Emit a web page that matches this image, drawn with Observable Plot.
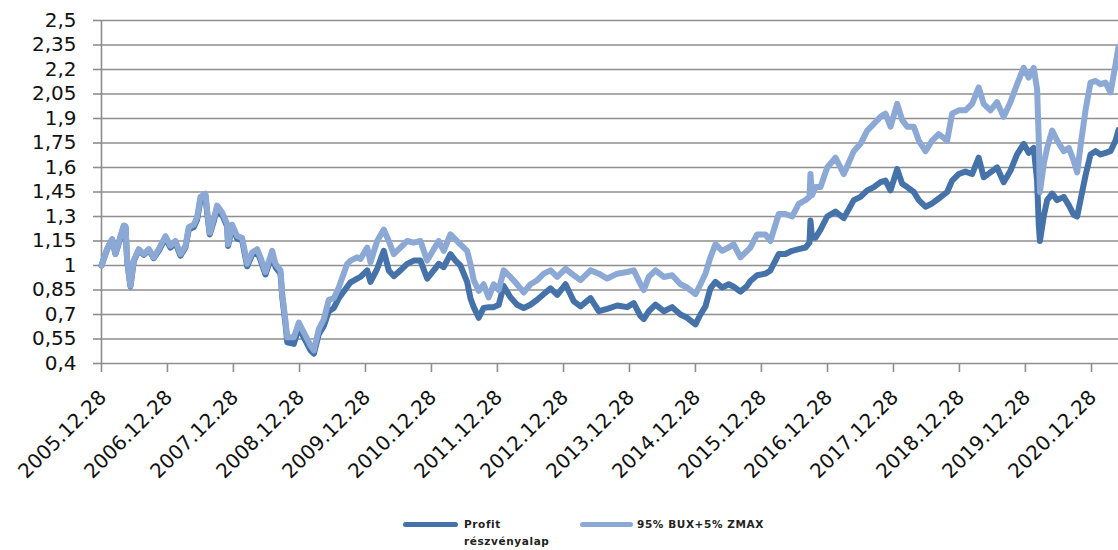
<!DOCTYPE html>
<html>
<head>
<meta charset="utf-8">
<script src="https://cdn.jsdelivr.net/npm/d3@7"></script>
<script src="https://cdn.jsdelivr.net/npm/@observablehq/plot@0.6"></script>
<style>
  html, body { margin: 0; padding: 0; background: #fff; }
  #wrap { position: relative; width: 1118px; height: 550px; overflow: hidden; font-family: "DejaVu Sans", sans-serif; }
  #legend { position: absolute; left: 0; top: 500px; width: 1118px; height: 50px; }
  .sw { position: absolute; height: 5px; border-radius: 3px; }
  .lt { position: absolute; font-family: "DejaVu Sans", sans-serif; font-weight: bold; font-size: 10.5px; color: #222; line-height: 17px; letter-spacing: 0.6px; white-space: nowrap; }
</style>
</head>
<body>
<div id="wrap">
  <div id="chart"></div>
  <div id="legend"></div>
</div>
<script>
// ---- data (decimal years) ----
const seriesNames = ["Profit részvényalap", "95% BUX+5% ZMAX"];
const seriesColors = ["#4472a9", "#8ca9d5"];

const dates = [
 2005.989, 2006.075, 2006.151, 2006.201, 2006.277, 2006.327, 2006.353, 2006.378, 2006.428, 2006.478,
 2006.554, 2006.630, 2006.706, 2006.781, 2006.857, 2006.959, 2007.034, 2007.110, 2007.186, 2007.262,
 2007.312, 2007.387, 2007.439, 2007.489, 2007.565, 2007.591, 2007.630, 2007.691, 2007.742, 2007.818,
 2007.894, 2007.909, 2007.969, 2008.045, 2008.121, 2008.197, 2008.272, 2008.348, 2008.398, 2008.474,
 2008.575, 2008.625, 2008.701, 2008.727, 2008.777, 2008.803, 2008.903, 2008.978, 2009.054, 2009.156,
 2009.206, 2009.281, 2009.357, 2009.433, 2009.509, 2009.584, 2009.712, 2009.762, 2009.863, 2009.913,
 2010.015, 2010.065, 2010.166, 2010.266, 2010.342, 2010.418, 2010.519, 2010.621, 2010.721, 2010.822,
 2010.924, 2011.024, 2011.100, 2011.175, 2011.277, 2011.353, 2011.428, 2011.530, 2011.580, 2011.630,
 2011.706, 2011.781, 2011.857, 2011.933, 2012.009, 2012.084, 2012.186, 2012.287, 2012.387, 2012.489,
 2012.591, 2012.691, 2012.792, 2012.894, 2013.019, 2013.145, 2013.247, 2013.398, 2013.524, 2013.651,
 2013.803, 2013.954, 2014.054, 2014.156, 2014.206, 2014.281, 2014.383, 2014.509, 2014.636, 2014.762,
 2014.863, 2014.989, 2015.065, 2015.141, 2015.216, 2015.292, 2015.394, 2015.494, 2015.569, 2015.671,
 2015.772, 2015.822, 2015.924, 2016.050, 2016.125, 2016.251, 2016.353, 2016.454, 2016.554, 2016.656,
 2016.716, 2016.731, 2016.754, 2016.807, 2016.883, 2016.984, 2017.110, 2017.236, 2017.387, 2017.489,
 2017.591, 2017.691, 2017.792, 2017.868, 2017.944, 2018.045, 2018.121, 2018.197, 2018.297, 2018.372,
 2018.474, 2018.575, 2018.675, 2018.803, 2018.878, 2018.978, 2019.080, 2019.181, 2019.281, 2019.357,
 2019.459, 2019.560, 2019.660, 2019.762, 2019.863, 2019.963, 2020.039, 2020.115, 2020.166, 2020.191,
 2020.209, 2020.266, 2020.318, 2020.394, 2020.469, 2020.569, 2020.645, 2020.721, 2020.772, 2020.822,
 2020.898, 2020.974, 2021.050, 2021.125, 2021.201, 2021.277, 2021.353, 2021.398
];

const profit = [
 1.00, 1.10, 1.16, 1.07, 1.17, 1.24, 1.235, 1.025, 0.872, 1.025,
 1.095, 1.065, 1.095, 1.045, 1.09, 1.17, 1.11, 1.14, 1.06, 1.11,
 1.22, 1.235, 1.28, 1.40, 1.425, 1.32, 1.19, 1.27, 1.35, 1.31,
 1.24, 1.12, 1.235, 1.165, 1.155, 0.995, 1.065, 1.085, 1.035, 0.945,
 1.07, 0.99, 0.95, 0.81, 0.64, 0.53, 0.52, 0.62, 0.56, 0.48,
 0.46, 0.58, 0.63, 0.72, 0.74, 0.80, 0.87, 0.897, 0.92, 0.93,
 0.97, 0.90, 0.98, 1.09, 0.97, 0.935, 0.97, 1.01, 1.03, 1.03,
 0.92, 0.97, 1.01, 0.99, 1.07, 1.03, 1.00, 0.90, 0.80, 0.745,
 0.68, 0.74, 0.745, 0.745, 0.76, 0.875, 0.805, 0.76, 0.74, 0.76,
 0.79, 0.825, 0.86, 0.82, 0.885, 0.78, 0.75, 0.80, 0.72, 0.735,
 0.755, 0.745, 0.77, 0.69, 0.672, 0.72, 0.76, 0.72, 0.745, 0.70,
 0.68, 0.64, 0.70, 0.75, 0.86, 0.90, 0.865, 0.885, 0.87, 0.84,
 0.875, 0.905, 0.94, 0.95, 0.97, 1.07, 1.07, 1.09, 1.10, 1.11,
 1.14, 1.275, 1.17, 1.17, 1.22, 1.30, 1.33, 1.29, 1.40, 1.42,
 1.46, 1.48, 1.51, 1.52, 1.46, 1.59, 1.50, 1.48, 1.45, 1.40,
 1.36, 1.38, 1.41, 1.45, 1.52, 1.56, 1.575, 1.56, 1.66, 1.54,
 1.57, 1.60, 1.51, 1.58, 1.68, 1.745, 1.69, 1.72, 1.52, 1.25,
 1.15, 1.30, 1.40, 1.44, 1.40, 1.42, 1.37, 1.31, 1.30, 1.40,
 1.55, 1.68, 1.70, 1.68, 1.69, 1.70, 1.765, 1.83
];

const benchmark = [
 1.00, 1.10, 1.16, 1.07, 1.18, 1.245, 1.24, 1.03, 0.876, 1.03,
 1.10, 1.07, 1.10, 1.05, 1.10, 1.18, 1.12, 1.15, 1.07, 1.12,
 1.235, 1.25, 1.295, 1.42, 1.44, 1.335, 1.20, 1.285, 1.367, 1.325,
 1.255, 1.13, 1.25, 1.18, 1.17, 1.01, 1.08, 1.10, 1.05, 0.96,
 1.09, 1.01, 0.97, 0.825, 0.66, 0.56, 0.56, 0.65, 0.59, 0.51,
 0.48, 0.61, 0.67, 0.79, 0.80, 0.865, 1.01, 1.03, 1.05, 1.04,
 1.11, 1.02, 1.15, 1.22, 1.15, 1.07, 1.11, 1.15, 1.14, 1.15,
 1.03, 1.10, 1.15, 1.09, 1.19, 1.16, 1.13, 1.09, 1.01, 0.91,
 0.845, 0.885, 0.805, 0.885, 0.85, 0.97, 0.93, 0.885, 0.835, 0.885,
 0.91, 0.95, 0.97, 0.93, 0.98, 0.94, 0.91, 0.97, 0.95, 0.92,
 0.95, 0.96, 0.97, 0.885, 0.85, 0.93, 0.97, 0.93, 0.94, 0.885,
 0.865, 0.825, 0.885, 0.95, 1.05, 1.13, 1.09, 1.11, 1.13, 1.05,
 1.09, 1.11, 1.19, 1.19, 1.15, 1.315, 1.315, 1.30, 1.377, 1.40,
 1.42, 1.56, 1.43, 1.48, 1.48, 1.60, 1.66, 1.56, 1.70, 1.745,
 1.826, 1.867, 1.91, 1.93, 1.85, 1.99, 1.89, 1.85, 1.85, 1.765,
 1.70, 1.765, 1.805, 1.765, 1.93, 1.95, 1.95, 1.99, 2.09, 1.99,
 1.95, 2.00, 1.91, 2.00, 2.11, 2.21, 2.15, 2.21, 2.08, 1.77,
 1.45, 1.62, 1.72, 1.826, 1.765, 1.70, 1.72, 1.64, 1.57, 1.73,
 1.95, 2.12, 2.13, 2.11, 2.12, 2.06, 2.23, 2.34
];

const xTickLabels = ["2005.12.28","2006.12.28","2007.12.28","2008.12.28","2009.12.28","2010.12.28",
 "2011.12.28","2012.12.28","2013.12.28","2014.12.28","2015.12.28","2016.12.28","2017.12.28",
 "2018.12.28","2019.12.28","2020.12.28"];
const yTicks = [0.4, 0.55, 0.7, 0.85, 1, 1.15, 1.3, 1.45, 1.6, 1.75, 1.9, 2.05, 2.2, 2.35, 2.5];

// ---- helpers ----
function decToDate(dy) {
  const y = Math.floor(dy);
  const s = Date.UTC(y, 0, 1), e = Date.UTC(y + 1, 0, 1);
  return new Date(s + (dy - y) * (e - s));
}
const parseLabel = d3.utcParse("%Y.%m.%d");
const xTicks = xTickLabels.map(s => ({date: parseLabel(s), label: s}));

const rows = [];
dates.forEach((d, i) => rows.push({date: decToDate(d), value: profit[i], series: seriesNames[0]}));
dates.forEach((d, i) => rows.push({date: decToDate(d), value: benchmark[i], series: seriesNames[1]}));

const fmt = v => String(v).replace(".", ",");
const gridColor = "#8e8e8e";

const chart = Plot.plot({
  width: 1118,
  height: 500,
  marginLeft: 101,
  marginRight: 0,
  marginTop: 20,
  marginBottom: 137,
  style: {fontFamily: "DejaVu Sans, sans-serif", fontSize: "20px", background: "#fff", overflow: "visible"},
  x: {type: "utc", domain: [xTicks[0].date, decToDate(dates[dates.length - 1])]},
  y: {domain: [0.4, 2.5]},
  color: {domain: seriesNames, range: seriesColors},
  marks: [
    Plot.ruleY(yTicks, {stroke: gridColor, strokeWidth: 1.6}),
    Plot.ruleX([xTicks[0].date], {y1: 0.4, y2: 2.5, stroke: gridColor, strokeWidth: 1.6}),
    Plot.axisY(yTicks, {tickSize: 8, tickPadding: 17, stroke: gridColor, strokeWidth: 1.6, fill: "#111",
      tickFormat: fmt, fontSize: 20, label: null}),
    Plot.axisX(xTicks.map(d => d.date), {tickSize: 9, stroke: gridColor, strokeWidth: 1.6, tickFormat: () => "", label: null}),
    Plot.text(xTicks, {x: "date", frameAnchor: "bottom", text: "label", rotate: -45, textAnchor: "end",
      lineAnchor: "middle", dx: 1.5, dy: 30.5, fontSize: 20, fill: "#111"}),
    Plot.line(rows.filter(r => r.series === seriesNames[0]), {x: "date", y: "value", stroke: seriesColors[0], strokeWidth: 6, strokeLinejoin: "round", strokeLinecap: "round"}),
    Plot.line(rows.filter(r => r.series === seriesNames[1]), {x: "date", y: "value", stroke: seriesColors[1], strokeWidth: 6, strokeLinejoin: "round", strokeLinecap: "round"})
  ]
});
document.getElementById("chart").appendChild(chart);

// ---- legend ----
const legend = document.getElementById("legend");
const legendItems = [
  {sx: 403, sw: 55, tx: 464, lines: ["Profit", "részvényalap"], color: seriesColors[0]},
  {sx: 580, sw: 53, tx: 637, lines: ["95% BUX+5% ZMAX"], color: seriesColors[1]}
];
legendItems.forEach(it => {
  const s = document.createElement("div");
  s.className = "sw";
  s.style.left = it.sx + "px"; s.style.width = it.sw + "px"; s.style.top = "21.5px";
  s.style.background = it.color;
  legend.appendChild(s);
  const t = document.createElement("div");
  t.className = "lt";
  t.style.left = it.tx + "px"; t.style.top = "15.5px";
  t.innerHTML = it.lines.join("<br>");
  legend.appendChild(t);
});
</script>
</body>
</html>
